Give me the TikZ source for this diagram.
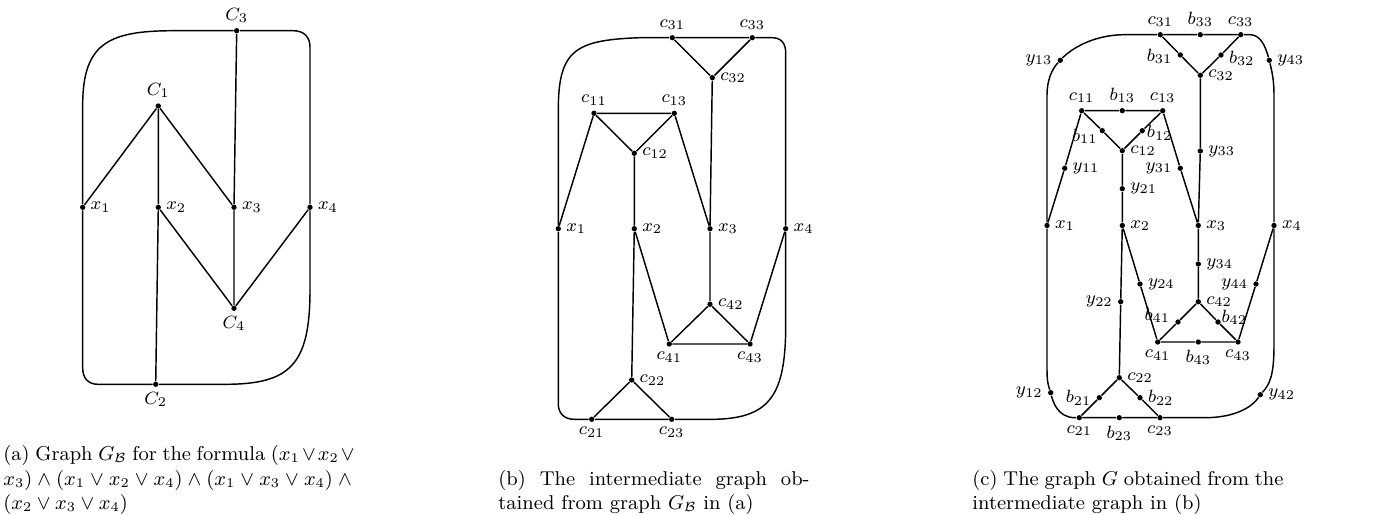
\documentclass[tikz,border=0pt]{standalone}
\newcommand{\lblfont}{\footnotesize}
\tikzset{
  vtx/.style={circle,fill=black,inner sep=0pt,minimum size=2.4pt},
  every label/.style={font=\lblfont,inner sep=2pt},
  link/.style={line width=0.65pt},
  capt/.style={anchor=south west,inner sep=0pt,align=justify,font=\small}
}
\begin{document}
\begin{tikzpicture}[x=0.45pt,y=-0.45pt]
  \useasboundingbox (0,0) rectangle (1378,515);
  % (a) graph of the formula
  \node[vtx,label=above:$C_1$] (a-C1) at (158.3,106) {};
  \node[vtx,label=below:$C_2$] (a-C2) at (155.7,384.3) {};
  \node[vtx,label=above:$C_3$] (a-C3) at (236.7,30.7) {};
  \node[vtx,label=below:$C_4$] (a-C4) at (234,308.3) {};
  \node[vtx,label=right:$x_1$] (a-x1) at (82.7,207.3) {};
  \node[vtx,label=right:$x_2$] (a-x2) at (158.3,207.3) {};
  \node[vtx,label=right:$x_3$] (a-x3) at (234,207.3) {};
  \node[vtx,label=right:$x_4$] (a-x4) at (310,207.3) {};
  \draw[link] (a-C1) -- (a-x1) (a-C1) -- (a-x2) (a-C1) -- (a-x3)
    (a-C3) -- (a-x3) -- (a-C4) (a-x2) -- (a-C4) (a-x4) -- (a-C4)
    (a-x2) -- (a-C2);
  \draw[link] (a-C3) -- (293,30.7) .. controls (304,30.7) and (310,37) .. (310,47) -- (a-x4)
    -- (310,290) .. controls (310,365) and (290,384.3) .. (225,384.3) -- (a-C2)
    -- (98,384.3) .. controls (88,384.3) and (82.7,378) .. (82.7,368) -- (a-x1)
    -- (82.7,105) .. controls (82.7,42) and (110,30.7) .. (175,30.7) -- (a-C3);

  % (b) intermediate graph
  \node[vtx,label=above:$c_{31}$] (b-c31) at (672.3,37.7) {};
  \node[vtx,label=right:$c_{32}$] (b-c32) at (712.3,77.7) {};
  \node[vtx,label=above:$c_{33}$] (b-c33) at (752.3,37.7) {};
  \node[vtx,label=above:$c_{11}$] (b-c11) at (594,113.3) {};
  \node[vtx,label=right:$c_{12}$] (b-c12) at (634.3,153.3) {};
  \node[vtx,label=above:$c_{13}$] (b-c13) at (674.3,113.3) {};
  \node[vtx,label=right:$x_1$] (b-x1) at (558.3,228.7) {};
  \node[vtx,label=right:$x_2$] (b-x2) at (634.3,228.7) {};
  \node[vtx,label=right:$x_3$] (b-x3) at (710,228.7) {};
  \node[vtx,label=right:$x_4$] (b-x4) at (785.7,228.7) {};
  \node[vtx,label=below:$c_{41}$] (b-c41) at (669.3,344) {};
  \node[vtx,label=right:$c_{42}$] (b-c42) at (710,304.3) {};
  \node[vtx,label=below:$c_{43}$] (b-c43) at (750,344) {};
  \node[vtx,label=below:$c_{21}$] (b-c21) at (591.7,419.3) {};
  \node[vtx,label=right:$c_{22}$] (b-c22) at (631.7,380) {};
  \node[vtx,label=below:$c_{23}$] (b-c23) at (671.7,419.3) {};
  \draw[link] (b-c11) -- (b-c13) -- (b-c12) -- (b-c11)
    (b-c31) -- (b-c33) -- (b-c32) -- (b-c31)
    (b-c41) -- (b-c43) -- (b-c42) -- (b-c41)
    (b-c21) -- (b-c23) -- (b-c22) -- (b-c21)
    (b-c11) -- (b-x1) (b-c13) -- (b-x3) (b-c12) -- (b-x2)
    (b-c32) -- (b-x3) -- (b-c42) (b-x2) -- (b-c41) (b-x4) -- (b-c43)
    (b-x2) -- (b-c22);
  \draw[link] (b-c33) -- (772,37.7) .. controls (781,37.7) and (785.7,43) .. (785.7,53) -- (b-x4)
    -- (785.7,325) .. controls (785.7,395) and (770,418) .. (715,419.3) -- (b-c23);
  \draw[link] (b-c21) -- (574,419.3) .. controls (564,419.3) and (558.3,413) .. (558.3,404) -- (b-x1)
    -- (558.3,110) .. controls (558.3,50) and (575,40) .. (640,37.7) -- (b-c31);

  % (c) the graph G
  \node[vtx,label=above:$c_{31}$] (c-c31) at (1160.3,34.7) {};
  \node[vtx,label=above:$b_{33}$] (c-b33) at (1200.3,34.7) {};
  \node[vtx,label=above:$c_{33}$] (c-c33) at (1240.7,34.7) {};
  \node[vtx,label={[yshift=-0.7pt]left:$b_{31}$}] (c-b31) at (1180.3,55) {};
  \node[vtx,label={[yshift=-1.4pt]right:$b_{32}$}] (c-b32) at (1221,55) {};
  \node[vtx,label=right:$c_{32}$] (c-c32) at (1200.3,75.3) {};
  \node[vtx,label=left:$y_{13}$] (c-y13) at (1060.3,60.3) {};
  \node[vtx,label=right:$y_{43}$] (c-y43) at (1269.3,60.3) {};
  \node[vtx,label=above:$c_{11}$] (c-c11) at (1081.7,110.7) {};
  \node[vtx,label=above:$b_{13}$] (c-b13) at (1122.3,110.7) {};
  \node[vtx,label=above:$c_{13}$] (c-c13) at (1162.7,110.7) {};
  \node[vtx,label={[yshift=-2.5pt,label distance=-1.5pt]left:$b_{11}$}] (c-b11) at (1102.3,130.7) {};
  \node[vtx,label={[yshift=-1pt,label distance=-1.5pt]right:$b_{12}$}] (c-b12) at (1142.3,130.7) {};
  \node[vtx,label=right:$c_{12}$] (c-c12) at (1122.3,150.7) {};
  \node[vtx,label=right:$y_{11}$] (c-y11) at (1064.7,168.3) {};
  \node[vtx,label=left:$y_{31}$] (c-y31) at (1180.3,168.3) {};
  \node[vtx,label=right:$y_{33}$] (c-y33) at (1200.3,151) {};
  \node[vtx,label=right:$y_{21}$] (c-y21) at (1122.3,188.7) {};
  \node[vtx,label=right:$x_1$] (c-x1) at (1047,225.5) {};
  \node[vtx,label=right:$x_2$] (c-x2) at (1122.3,225.5) {};
  \node[vtx,label=right:$x_3$] (c-x3) at (1198.3,225.5) {};
  \node[vtx,label=right:$x_4$] (c-x4) at (1274,225.5) {};
  \node[vtx,label=right:$y_{34}$] (c-y34) at (1198.3,264) {};
  \node[vtx,label=right:$y_{24}$] (c-y24) at (1140,284) {};
  \node[vtx,label=left:$y_{44}$] (c-y44) at (1256,284) {};
  \node[vtx,label=left:$y_{22}$] (c-y22) at (1120.7,301.7) {};
  \node[vtx,label=right:$c_{42}$] (c-c42) at (1198.3,301.7) {};
  \node[vtx,label={[yshift=3pt]left:$b_{41}$}] (c-b41) at (1178,322) {};
  \node[vtx,label={[yshift=2pt,label distance=-2pt]right:$b_{42}$}] (c-b42) at (1218,322) {};
  \node[vtx,label=below:$c_{41}$] (c-c41) at (1157.7,342) {};
  \node[vtx,label=below:$b_{43}$] (c-b43) at (1198.3,342) {};
  \node[vtx,label=below:$c_{43}$] (c-c43) at (1238,342) {};
  \node[vtx,label=right:$c_{22}$] (c-c22) at (1119.3,377.7) {};
  \node[vtx,label=left:$b_{21}$] (c-b21) at (1099.3,397.7) {};
  \node[vtx,label=right:$b_{22}$] (c-b22) at (1140,397.7) {};
  \node[vtx,label=below:$c_{21}$] (c-c21) at (1079.3,417.7) {};
  \node[vtx,label=below:$b_{23}$] (c-b23) at (1119.3,417.7) {};
  \node[vtx,label=below:$c_{23}$] (c-c23) at (1160,417.7) {};
  \node[vtx,label=left:$y_{12}$] (c-y12) at (1050.7,392.7) {};
  \node[vtx,label=right:$y_{42}$] (c-y42) at (1260.3,394.7) {};
  \draw[link] (c-c31) -- (c-b33) -- (c-c33)
    (c-c31) -- (c-b31) -- (c-c32) -- (c-b32) -- (c-c33)
    (c-c32) -- (c-y33) -- (c-x3)
    (c-c11) -- (c-b13) -- (c-c13) -- (c-b12) -- (c-c12) -- (c-b11) -- (c-c11)
    (c-c12) -- (c-y21) -- (c-x2)
    (c-c11) -- (c-y11) -- (c-x1)
    (c-c13) -- (c-y31) -- (c-x3)
    (c-x3) -- (c-y34) -- (c-c42)
    (c-c42) -- (c-b41) -- (c-c41) -- (c-b43) -- (c-c43) -- (c-b42) -- (c-c42)
    (c-x2) -- (c-y24) -- (c-c41)
    (c-x4) -- (c-y44) -- (c-c43)
    (c-x2) -- (c-y22) -- (c-c22)
    (c-c22) -- (c-b21) -- (c-c21) -- (c-b23) -- (c-c23) -- (c-b22) -- (c-c22);
  \draw[link] (c-x1) -- (1047,95) .. controls (1047,80) and (1052,69) .. (c-y13)
    .. controls (1070,50) and (1092,34.7) .. (1125,34.7) -- (c-c31);
  \draw[link] (c-c33) -- (1250,34.7) .. controls (1260,34.7) and (1265,45) .. (c-y43)
    .. controls (1272,72) and (1274,80) .. (1274,95) -- (c-x4);
  \draw[link] (c-x1) -- (1047,370) .. controls (1047,382) and (1048.5,386) .. (c-y12)
    .. controls (1053,402) and (1058,417.7) .. (1075,417.7) -- (c-c21);
  \draw[link] (c-x4) -- (1274,345) .. controls (1274,375) and (1270,384) .. (c-y42)
    .. controls (1250,410) and (1230,417.7) .. (1205,417.7) -- (c-c23);

  % captions
  \node[capt,text width=159pt] (cap-a) at (3,515) {(a) Graph $G_{\mathcal{B}}$ for the formula $(x_1\lor x_2\lor{}$\linebreak $x_3)\land(x_1\lor x_2\lor x_4)\land(x_1\lor x_3\lor x_4)\land{}$\linebreak $(x_2\lor x_3\lor x_4)$};
  \node[capt,text width=140pt] (cap-b) at (498,515) {(b) The intermediate graph ob-\linebreak tained from graph $G_{\mathcal{B}}$ in (a)};
  \node[capt,text width=140pt] (cap-c) at (972,515) {(c) The graph $G$ obtained from the\linebreak intermediate graph in (b)};
\end{tikzpicture}
\end{document}
